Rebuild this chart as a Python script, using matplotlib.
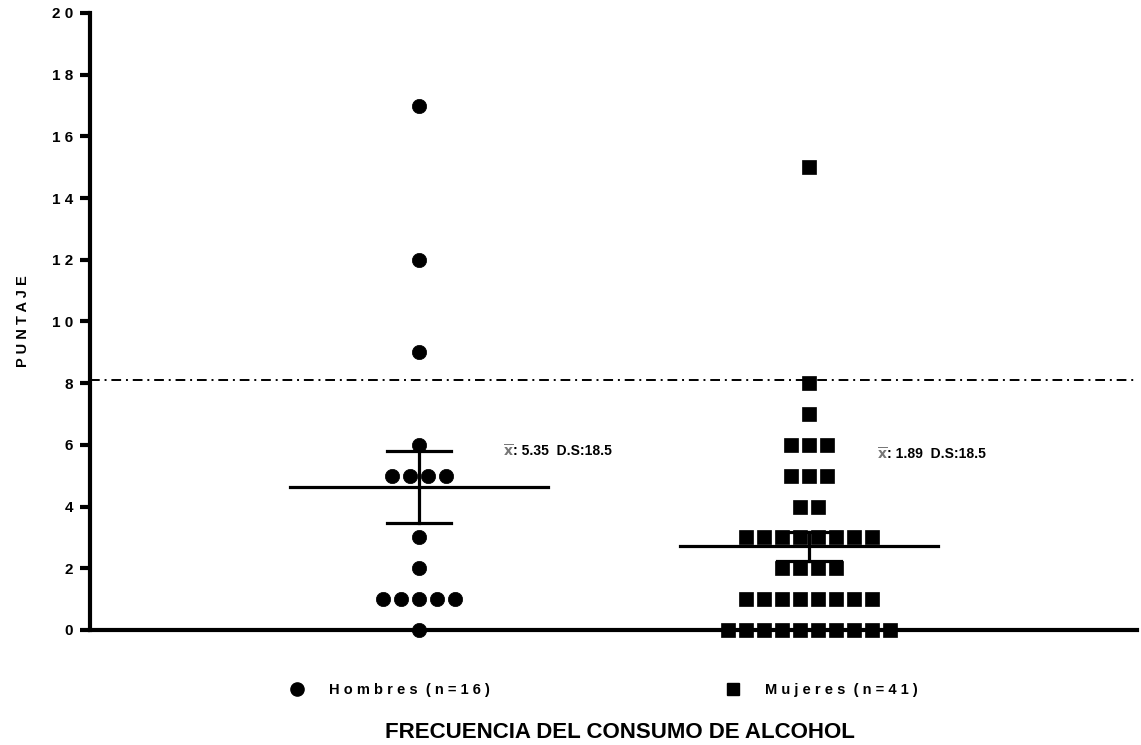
import numpy as np
import matplotlib.pyplot as plt
from matplotlib.lines import Line2D

plt.rcParams['font.family'] = ['Liberation Sans', 'DejaVu Sans']

# puntajes
hombres = [17, 12, 9, 6, 5, 5, 5, 5, 3, 2, 1, 1, 1, 1, 1, 0]
mujeres = [15, 8, 7, 6, 6, 6, 5, 5, 5, 4, 4, 3, 3, 3, 3, 3, 3, 3, 3,
           2, 2, 2, 2, 1, 1, 1, 1, 1, 1, 1, 1,
           0, 0, 0, 0, 0, 0, 0, 0, 0, 0]
grupos = ['H o m b r e s  ( n = 1 6 )', 'M u j e r e s  ( n = 4 1 )']
notas = [': 5.35  D.S:18.5', ': 1.89  D.S:18.5']
yticks = [0, 2, 4, 6, 8, 10, 12, 14, 16, 18, 20]
yticklabels = ['0', '2', '4', '6', '8', '1 0', '1 2', '1 4', '1 6', '1 8', '2 0']
corte = 8.1

fig = plt.figure(figsize=(11.41, 7.45), dpi=100)
ax = fig.add_axes([0.0789, 0.1544, 0.9176, 0.8282])

def swarm(vals, x0, step=0.046):
    vals = np.array(vals)
    xs = np.zeros(len(vals), dtype=float)
    for v in np.unique(vals):
        idx = np.where(vals == v)[0]
        k = len(idx)
        xs[idx] = x0 + (np.arange(k) - (k - 1) / 2) * step
    return xs, vals

for i, (datos, mk, ms) in enumerate([(hombres, 'o', 10.3), (mujeres, 's', 9.6)]):
    x0 = i + 1
    xs, ys = swarm(datos, x0)
    ax.plot(xs, ys, mk, color='black', ms=ms, mec='black', mew=0.5, clip_on=False, zorder=3)
    m = np.mean(datos)
    sem = np.std(datos, ddof=1) / np.sqrt(len(datos))
    ax.plot([x0 - 0.33, x0 + 0.33], [m, m], color='black', lw=2.3, zorder=2)
    ax.plot([x0, x0], [m - sem, m + sem], color='black', lw=2.3, zorder=2)
    for yy in (m - sem, m + sem):
        ax.plot([x0 - 0.082, x0 + 0.082], [yy, yy], color='black', lw=2.3, zorder=2)

ax.axhline(corte, color='black', lw=1.4, ls=(0, (5, 2.5, 1, 2.5)), zorder=1)

# anotaciones de media
for xt, yt, nota in [(1.215, 5.8, notas[0]), (2.175, 5.7, notas[1])]:
    ax.text(xt, yt, r'$\overline{\mathbf{x}}$', fontsize=10, color='#777777',
            ha='left', va='center')
    ax.text(xt + 0.025, yt, nota, fontsize=10, fontweight='bold', ha='left', va='center')

ax.set_xlim(0.156, 2.841)
ax.set_ylim(0, 20)
ax.set_yticks(yticks)
ax.set_yticklabels(yticklabels)
ax.set_xticks([])
for s in ['top', 'right']:
    ax.spines[s].set_visible(False)
for s in ['left', 'bottom']:
    ax.spines[s].set_linewidth(3)
ax.tick_params(axis='y', direction='out', length=7, width=3, labelsize=11, pad=5)
for t in ax.get_yticklabels():
    t.set_fontweight('bold')

ax.set_ylabel('P U N T A J E', fontsize=10.5, fontweight='bold', labelpad=16)

handles = [Line2D([], [], marker='o', ls='', color='black', ms=9.5),
           Line2D([], [], marker='s', ls='', color='black', ms=9)]
for h, g, xa in [(handles[0], grupos[0], 0.254), (handles[1], grupos[1], 0.636)]:
    fig.legend([h], [g], loc='center left', bbox_to_anchor=(xa, 0.0738),
               frameon=False, borderpad=0, borderaxespad=0, handlelength=1,
               handletextpad=1.7, prop={'weight': 'bold', 'size': 10.5})
fig.text(0.543, 0.017, 'FRECUENCIA DEL CONSUMO DE ALCOHOL', ha='center', va='center',
         fontsize=16, fontweight='bold')

fig.savefig('out.png', dpi=100)
